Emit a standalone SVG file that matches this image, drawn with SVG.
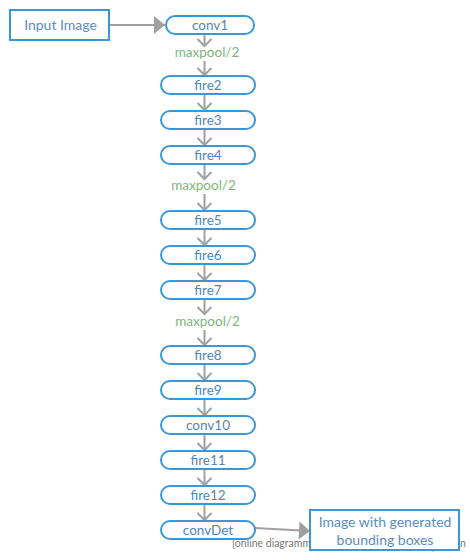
<svg xmlns="http://www.w3.org/2000/svg" width="470" height="560" viewBox="0 0 470 560">
<style>
.node rect{fill:#fff;stroke:#3a98d8;stroke-width:2}
.node text{font-family:Lato,"Liberation Sans",sans-serif;font-size:13.5px;fill:#4f86bd;text-anchor:middle}
.box rect{fill:#fff;stroke:#3a98d8;stroke-width:2}
.box text{font-family:Lato,"Liberation Sans",sans-serif;font-size:14px;fill:#5b8cbd;text-anchor:middle}
.lbl{font-family:Lato,"Liberation Sans",sans-serif;font-size:13.5px;fill:#80b57a;text-anchor:middle}
.edge{stroke:#a0a0a0;stroke-width:2;fill:none}
.v{marker-end:url(#chev)}
.t{marker-end:url(#tri)}
.wm{font-family:Lato,"Liberation Sans",sans-serif;font-size:10.5px;fill:#777}
</style>
<defs>
<marker id="chev" markerUnits="userSpaceOnUse" markerWidth="20" markerHeight="20" viewBox="-10 -10 20 20" refX="0" refY="0" orient="auto">
<path d="M-7,-7 L0,0 L-7,7" fill="none" stroke="#a0a0a0" stroke-width="2"/>
</marker>
<marker id="tri" markerUnits="userSpaceOnUse" markerWidth="24" markerHeight="24" viewBox="-12 -12 24 24" refX="0" refY="0" orient="auto">
<path d="M-11,-9 L0,0 L-11,9 Z" fill="#a0a0a0"/>
</marker>
</defs>
<text class="wm" x="232" y="547">[online diagramm</text>
<text class="wm" x="460" y="547">n</text>
<path d="M436,545 L433,552" stroke="#f5a623" stroke-width="1.5"/>
<g id="connectors">
<path class="edge t" d="M110,25 L165,25"/>
<path class="edge v" d="M204.5,35 L204.5,46"/>
<path class="edge v" d="M204.5,61 L204.5,75"/>
<path class="edge v" d="M204.5,94 L204.5,110"/>
<path class="edge v" d="M204.5,129 L204.5,145"/>
<path class="edge v" d="M204.5,164 L204.5,179"/>
<path class="edge v" d="M204.5,194 L204.5,210"/>
<path class="edge v" d="M204.5,229 L204.5,245"/>
<path class="edge v" d="M204.5,264 L204.5,280"/>
<path class="edge v" d="M204.5,299 L204.5,314"/>
<path class="edge v" d="M204.5,330 L204.5,345"/>
<path class="edge v" d="M204.5,364 L204.5,380"/>
<path class="edge v" d="M204.5,399 L204.5,415"/>
<path class="edge v" d="M204.5,434 L204.5,450"/>
<path class="edge v" d="M204.5,469 L204.5,485"/>
<path class="edge v" d="M204.5,504 L204.5,520"/>
<path class="edge t" d="M255,528 L310,531"/>
</g>
<text class="lbl" x="207" y="57">maxpool/2</text>
<text class="lbl" x="203.5" y="190">maxpool/2</text>
<text class="lbl" x="207.5" y="326">maxpool/2</text>
<g id="input" class="box"><rect x="10" y="10" width="99" height="30"/><text x="60.5" y="30">Input Image</text></g>
<g id="output" class="box"><rect x="310" y="510" width="149" height="40"/><text x="385" y="527">Image with generated</text><text x="385" y="545">bounding boxes</text></g>
<g id="conv1" class="node"><rect x="166" y="16" width="88" height="18" rx="9"/><text x="210" y="29.5">conv1</text></g>
<g id="fire2" class="node"><rect x="161" y="76" width="94" height="18" rx="9"/><text x="208" y="89.5">fire2</text></g>
<g id="fire3" class="node"><rect x="161" y="111" width="94" height="18" rx="9"/><text x="208" y="124.5">fire3</text></g>
<g id="fire4" class="node"><rect x="161" y="146" width="94" height="18" rx="9"/><text x="208" y="159.5">fire4</text></g>
<g id="fire5" class="node"><rect x="161" y="211" width="94" height="18" rx="9"/><text x="208" y="224.5">fire5</text></g>
<g id="fire6" class="node"><rect x="161" y="246" width="94" height="18" rx="9"/><text x="208" y="259.5">fire6</text></g>
<g id="fire7" class="node"><rect x="161" y="281" width="94" height="18" rx="9"/><text x="208" y="294.5">fire7</text></g>
<g id="fire8" class="node"><rect x="161" y="346" width="94" height="18" rx="9"/><text x="208" y="359.5">fire8</text></g>
<g id="fire9" class="node"><rect x="161" y="381" width="94" height="18" rx="9"/><text x="208" y="394.5">fire9</text></g>
<g id="conv10" class="node"><rect x="161" y="416" width="94" height="18" rx="9"/><text x="208" y="429.5">conv10</text></g>
<g id="fire11" class="node"><rect x="161" y="451" width="94" height="18" rx="9"/><text x="208" y="464.5">fire11</text></g>
<g id="fire12" class="node"><rect x="161" y="486" width="94" height="18" rx="9"/><text x="208" y="499.5">fire12</text></g>
<g id="convDet" class="node"><rect x="161" y="521" width="94" height="18" rx="9"/><text x="208" y="534.5">convDet</text></g>
</svg>
